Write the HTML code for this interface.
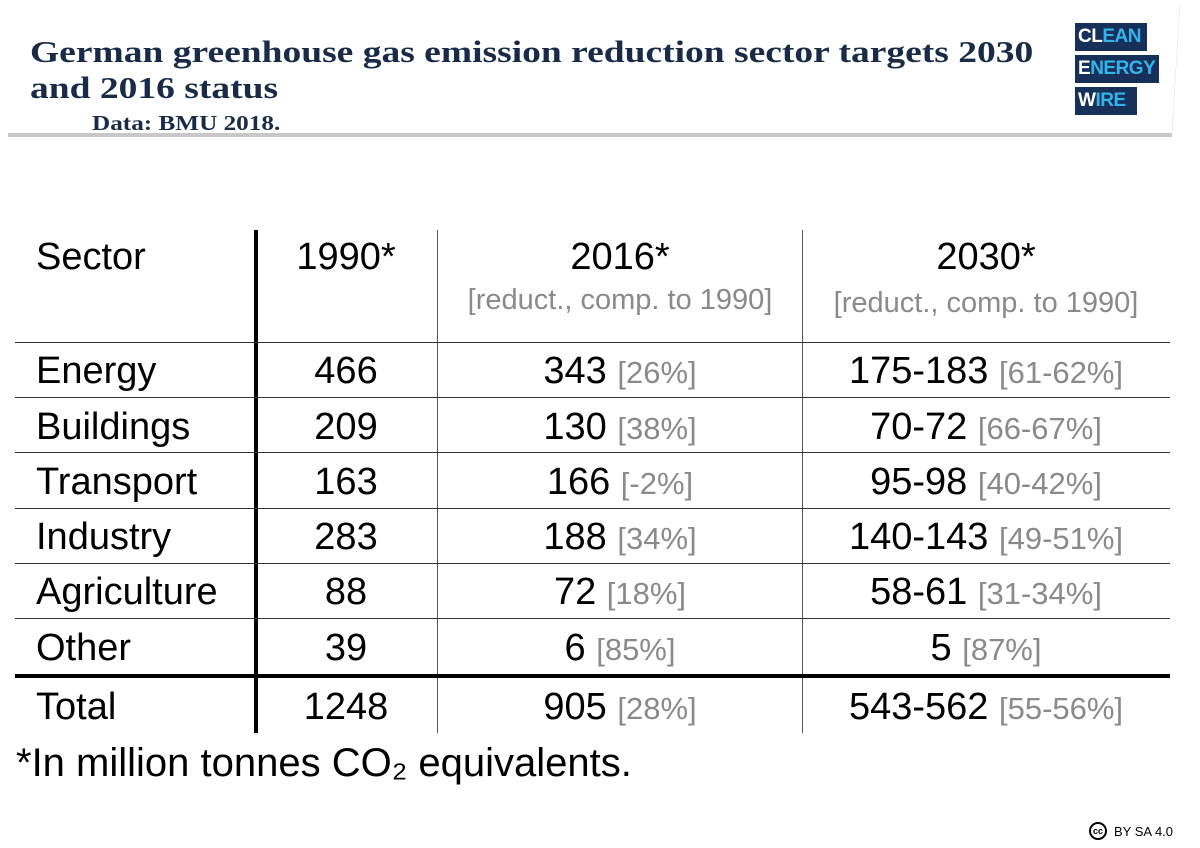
<!DOCTYPE html>
<html><head><meta charset="utf-8"><style>
body{margin:0;width:1200px;height:848px;background:#fff;position:relative;overflow:hidden;font-family:"Liberation Sans",sans-serif;}
.hdr{position:absolute;left:0;top:0;width:1180px;height:133px;background:#fff;clip-path:polygon(0 0,100% 0,99.3% 100%,0 100%);}
.shadow{position:absolute;left:8px;top:4px;width:1172px;height:133px;background:#c8c8c8;clip-path:polygon(0 0,100% 0,99.3% 100%,0 100%);}
h1{position:absolute;left:30px;top:34px;margin:0;font-family:"Liberation Serif",serif;font-weight:bold;font-size:31px;line-height:36px;color:#1a2b48;transform:scaleX(1.21);transform-origin:0 0;white-space:nowrap;}
.src{position:absolute;left:92px;top:111px;font-family:"Liberation Serif",serif;font-weight:bold;font-size:21px;color:#1a2b48;transform:scaleX(1.2);transform-origin:0 0;}
.lg{position:absolute;background:#17305a;color:#fff;font-weight:bold;font-size:19px;line-height:28px;padding-left:3px;box-sizing:border-box;white-space:nowrap;overflow:hidden;letter-spacing:-0.5px;}
.lg b{color:#33b5ec;}
.t{position:absolute;font-size:38px;color:#000;white-space:nowrap;line-height:1;}
.g{color:#8a8a8a;font-size:31px;}
.c{transform:translateX(-50%);}
.hl{position:absolute;left:15px;width:1155px;height:1px;background:#333;}
.vl{position:absolute;width:1px;background:#555;top:230px;height:503px;}
</style></head><body>
<div class="shadow"></div>
<div class="hdr"></div>
<h1>German greenhouse gas emission reduction sector targets 2030<br>and 2016 status</h1>
<div class="src">Data: BMU 2018.</div>
<div class="lg" style="left:1075px;top:23px;width:72px;">CL<b>EAN</b></div>
<div class="lg" style="left:1075px;top:55px;width:84px;">E<b>NERGY</b></div>
<div class="lg" style="left:1075px;top:87px;width:62px;">W<b>IRE</b></div>

<div class="vl" style="left:254px;width:4px;background:#000;"></div>
<div class="vl" style="left:437px;"></div>
<div class="vl" style="left:802px;"></div>
<div class="hl" style="top:342px"></div>
<div class="hl" style="top:397px"></div>
<div class="hl" style="top:452px"></div>
<div class="hl" style="top:508px"></div>
<div class="hl" style="top:563px"></div>
<div class="hl" style="top:618px"></div>
<div class="hl" style="top:674px;height:4px;background:#000"></div>

<div class="t" style="left:36px;top:238px">Sector</div>
<div class="t c" style="left:346px;top:238px">1990*</div>
<div class="t c" style="left:620px;top:238px">2016*</div>
<div class="t c g" style="left:620px;top:286px;font-size:29px">[reduct., comp. to 1990]</div>
<div class="t c" style="left:986px;top:238px">2030*</div>
<div class="t c g" style="left:986px;top:289px;font-size:29px">[reduct., comp. to 1990]</div>

<div class="t" style="left:36px;top:352px">Energy</div><div class="t c" style="left:346px;top:352px">466</div><div class="t c" style="left:620px;top:352px">343 <span class="g">[26%]</span></div><div class="t c" style="left:986px;top:352px">175-183 <span class="g">[61-62%]</span></div>
<div class="t" style="left:36px;top:408px">Buildings</div><div class="t c" style="left:346px;top:408px">209</div><div class="t c" style="left:620px;top:408px">130 <span class="g">[38%]</span></div><div class="t c" style="left:986px;top:408px">70-72 <span class="g">[66-67%]</span></div>
<div class="t" style="left:36px;top:463px">Transport</div><div class="t c" style="left:346px;top:463px">163</div><div class="t c" style="left:620px;top:463px">166 <span class="g">[-2%]</span></div><div class="t c" style="left:986px;top:463px">95-98 <span class="g">[40-42%]</span></div>
<div class="t" style="left:36px;top:518px">Industry</div><div class="t c" style="left:346px;top:518px">283</div><div class="t c" style="left:620px;top:518px">188 <span class="g">[34%]</span></div><div class="t c" style="left:986px;top:518px">140-143 <span class="g">[49-51%]</span></div>
<div class="t" style="left:36px;top:573px">Agriculture</div><div class="t c" style="left:346px;top:573px">88</div><div class="t c" style="left:620px;top:573px">72 <span class="g">[18%]</span></div><div class="t c" style="left:986px;top:573px">58-61 <span class="g">[31-34%]</span></div>
<div class="t" style="left:36px;top:629px">Other</div><div class="t c" style="left:346px;top:629px">39</div><div class="t c" style="left:620px;top:629px">6 <span class="g">[85%]</span></div><div class="t c" style="left:986px;top:629px">5 <span class="g">[87%]</span></div>
<div class="t" style="left:36px;top:688px">Total</div><div class="t c" style="left:346px;top:688px">1248</div><div class="t c" style="left:620px;top:688px">905 <span class="g">[28%]</span></div><div class="t c" style="left:986px;top:688px">543-562 <span class="g">[55-56%]</span></div>

<div class="t" style="left:16px;top:743px;font-size:40px">*In million tonnes CO₂ equivalents.</div>

<div style="position:absolute;left:1089px;top:822px;width:18px;height:18px;border:2px solid #000;border-radius:50%;box-sizing:border-box;font-size:9px;font-weight:bold;text-align:center;line-height:14px;">cc</div>
<div style="position:absolute;left:1114px;top:824px;font-size:13px;">BY SA 4.0</div>
</body></html>
